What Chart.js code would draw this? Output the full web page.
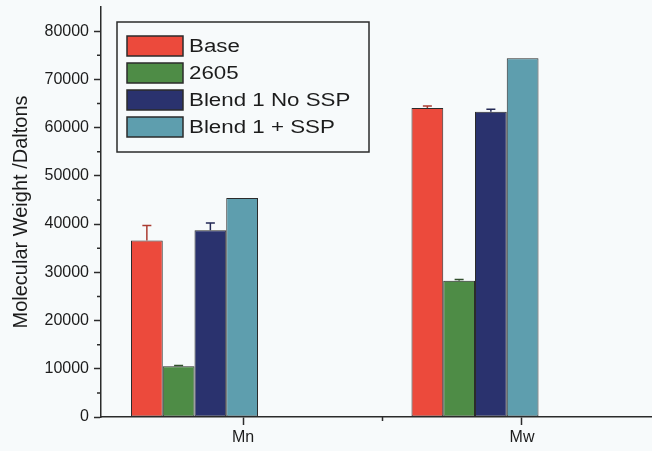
<!DOCTYPE html>
<html>
<head>
<meta charset="utf-8">
<script src="https://cdn.jsdelivr.net/npm/chart.js@4/dist/chart.umd.min.js"></script>
<style>
  html, body { margin: 0; padding: 0; background: #f7fafb; }
  canvas { display: block; }
</style>
</head>
<body>
<canvas id="chart" width="652" height="451"></canvas>
<script>
// Values
const categories = ['Mn', 'Mw'];
const seriesNames = ['Base', '2605', 'Blend 1 No SSP', 'Blend 1 + SSP'];
const baseValues = [36600, 64050];
const baseErrors = [3100, 450];
const values2605 = [10500, 28250];
const errors2605 = [200, 250];
const blendNoSspValues = [38700, 63300];
const blendNoSspErrors = [1500, 500];
const blendSspValues = [45400, 74400];
const blendSspErrors = [0, 0];
const yTickValues = [0, 10000, 20000, 30000, 40000, 50000, 60000, 70000, 80000];

const ink = '#2b2b2b';
const textColor = '#1c1c1c';
const fontFamily = "'Liberation Sans', Arial, sans-serif";
const colors = ['rgb(236, 74, 60)', 'rgb(78, 140, 70)', 'rgb(42, 50, 110)', 'rgb(94, 158, 174)'];
const errorColors = ['rgb(170, 60, 50)', 'rgb(50, 80, 45)', 'rgb(35, 40, 85)', 'rgb(70, 120, 135)'];

Chart.defaults.font.family = fontFamily;
Chart.defaults.color = textColor;

const seriesValues = [baseValues, values2605, blendNoSspValues, blendSspValues];
const seriesErrors = [baseErrors, errors2605, blendNoSspErrors, blendSspErrors];

// Upper error bars, drawn on top of the bars
const errorBars = {
	id: 'errorBars',
	afterDatasetsDraw(chart) {
		const { ctx } = chart;
		const yScale = chart.scales.y;
		ctx.save();
		ctx.lineWidth = 1.5;
		chart.data.datasets.forEach((ds, i) => {
			const meta = chart.getDatasetMeta(i);
			ctx.strokeStyle = errorColors[i];
			meta.data.forEach((bar, j) => {
				const err = ds.errors[j];
				if (!err) return;
				const yEnd = yScale.getPixelForValue(ds.data[j] + err);
				ctx.beginPath();
				ctx.moveTo(bar.x, bar.y);
				ctx.lineTo(bar.x, yEnd);
				ctx.moveTo(bar.x - 4.5, yEnd);
				ctx.lineTo(bar.x + 4.5, yEnd);
				ctx.stroke();
			});
		});
		ctx.restore();
	}
};

// Short minor ticks between the labelled ones
const minorTicks = {
	id: 'minorTicks',
	afterDraw(chart) {
		const { ctx, chartArea } = chart;
		const yScale = chart.scales.y;
		const xScale = chart.scales.xTicks;
		ctx.save();
		ctx.strokeStyle = ink;
		ctx.lineWidth = 1.5;
		ctx.beginPath();
		for (let i = 0; i < yTickValues.length - 1; i++) {
			const y = yScale.getPixelForValue((yTickValues[i] + yTickValues[i + 1]) / 2);
			ctx.moveTo(chartArea.left - 4, y);
			ctx.lineTo(chartArea.left, y);
		}
		for (let i = 0; i < categories.length - 1; i++) {
			const x = xScale.getPixelForValue(i + 1.5);
			ctx.moveTo(x, chartArea.bottom);
			ctx.lineTo(x, chartArea.bottom + 4);
		}
		ctx.stroke();
		ctx.restore();
	}
};

// Boxed legend inside the plot, top left
const boxLegend = {
	id: 'boxLegend',
	afterDraw(chart) {
		const { ctx, chartArea } = chart;
		const x0 = chartArea.left + 16;
		const y0 = chartArea.top + 15;
		ctx.save();
		ctx.lineWidth = 1.5;
		ctx.strokeStyle = ink;
		ctx.strokeRect(x0, y0, 252, 130);
		chart.data.datasets.forEach((ds, i) => {
			const top = y0 + 14 + i * 27;
			ctx.fillStyle = ds.backgroundColor;
			ctx.fillRect(x0 + 10, top, 56, 20);
			ctx.strokeRect(x0 + 10, top, 56, 20);
			ctx.save();
			ctx.translate(x0 + 72, top + 16);
			ctx.scale(1.24, 1);
			ctx.fillStyle = textColor;
			ctx.font = '18px ' + fontFamily;
			ctx.fillText(ds.label, 0, 0);
			ctx.restore();
		});
		ctx.restore();
	}
};

const chart = new Chart(document.getElementById('chart'), {
	type: 'bar',
	data: {
		labels: categories.map((c, i) => i + 1),
		datasets: seriesNames.map((name, i) => ({
			label: name,
			data: seriesValues[i],
			errors: seriesErrors[i],
			xAxisID: 'x',
			backgroundColor: colors[i],
			borderColor: ink,
			borderWidth: 1,
			borderSkipped: false,
			categoryPercentage: 0.4528,
			barPercentage: 1
		}))
	},
	options: {
		responsive: false,
		animation: false,
		devicePixelRatio: 1,
		layout: { padding: { top: 7, left: 0, right: 0, bottom: 0 } },
		plugins: {
			legend: { display: false },
			tooltip: { enabled: false }
		},
		scales: {
			x: {
				type: 'linear',
				display: false,
				offset: false,
				grid: { offset: false },
				min: 0.6667,
				max: 2.631,
				afterBuildTicks: scale => {
					scale.ticks = categories.map((c, i) => ({ value: i + 1 }));
				}
			},
			xTicks: {
				type: 'linear',
				position: 'bottom',
				offset: false,
				min: 0.491,
				max: 2.466,
				afterBuildTicks: scale => {
					scale.ticks = categories.map((c, i) => ({ value: i + 1 }));
				},
				afterFit: scale => {
					scale.height = 34;
					scale.paddingLeft = 0;
					scale.paddingRight = 0;
				},
				grid: { offset: false, drawOnChartArea: false, tickLength: 8, tickWidth: 1.5, tickColor: ink },
				border: { color: ink, width: 1.5 },
				ticks: {
					padding: 3,
					autoSkip: false,
					maxRotation: 0,
					font: { size: 16 },
					callback: v => categories[v - 1] || ''
				}
			},
			y: {
				min: 0,
				max: 85000,
				afterBuildTicks: scale => {
					scale.ticks = yTickValues.map(v => ({ value: v }));
				},
				afterFit: scale => {
					scale.width = 101;
					scale.paddingTop = 0;
					scale.paddingBottom = 0;
				},
				grid: { drawOnChartArea: false, tickLength: 7, tickWidth: 1.5, tickColor: ink },
				border: { color: ink, width: 1.5 },
				ticks: {
					padding: 5,
					autoSkip: false,
					font: { size: 16 },
					callback: v => String(v)
				},
				title: {
					display: true,
					text: 'Molecular Weight /Daltons',
					font: { size: 20 },
					padding: { top: 9, bottom: 0 }
				}
			}
		}
	},
	plugins: [errorBars, minorTicks, boxLegend]
});
</script>
</body>
</html>
